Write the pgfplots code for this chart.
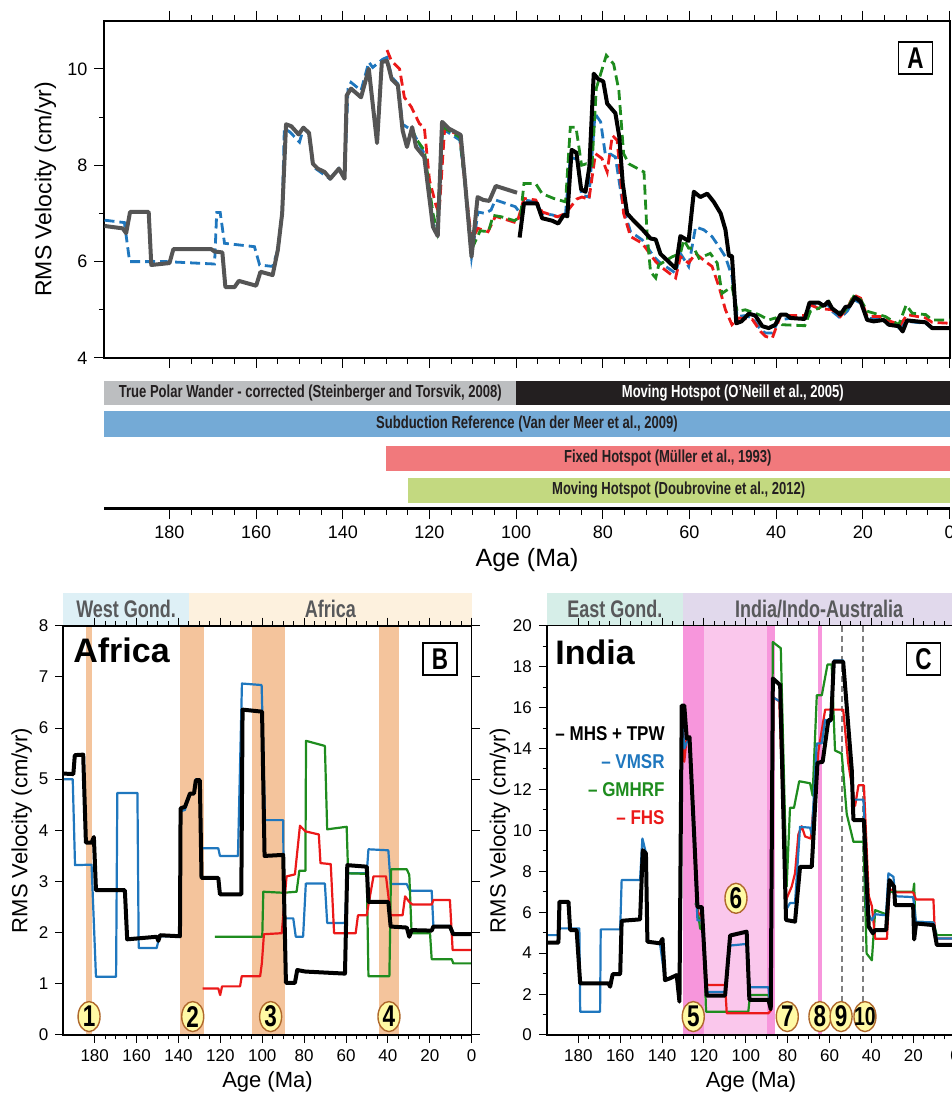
\documentclass[border=0pt]{standalone}
\usepackage{fontspec}
\setmainfont{Liberation Sans}
\newfontfamily\cond[FakeStretch=0.75]{Liberation Sans}
\newfontfamily\condleg[FakeStretch=0.85]{Liberation Sans}
\usepackage{pgfplots}
\pgfplotsset{compat=1.18}
\usetikzlibrary{shapes.geometric}
\definecolor{cblue}{RGB}{31,119,190}
\definecolor{cgreen}{RGB}{30,140,30}
\definecolor{cred}{RGB}{235,25,25}
\definecolor{cgrey}{RGB}{85,85,85}
\definecolor{barGrey}{RGB}{188,190,192}
\definecolor{barBlack}{RGB}{35,31,32}
\definecolor{barBlue}{RGB}{116,170,214}
\definecolor{barRed}{RGB}{241,121,124}
\definecolor{barGreen}{RGB}{195,217,128}
\definecolor{orangeBand}{RGB}{244,196,156}
\definecolor{pinkDark}{RGB}{247,150,220}
\definecolor{pinkLight}{RGB}{250,199,236}
\definecolor{hdrCyan}{RGB}{222,240,246}
\definecolor{hdrCream}{RGB}{253,241,222}
\definecolor{hdrTeal}{RGB}{214,238,232}
\definecolor{hdrLav}{RGB}{225,217,236}
\definecolor{badgeFill}{RGB}{255,250,165}
\definecolor{badgeEdge}{RGB}{175,105,45}
\definecolor{hdrText}{RGB}{88,89,91}
\tikzset{
 badge/.style={ellipse, draw=badgeEdge, fill=badgeFill, line width=0.7pt, inner sep=0pt, minimum width=11pt, minimum height=15pt, font=\cond\bfseries\fontsize{15}{15}\selectfont},
 lbox/.style={draw, line width=0.8pt, fill=white, minimum width=17pt, minimum height=16pt, inner sep=0pt, font=\cond\bfseries\fontsize{15}{15}\selectfont},
 bartxt/.style={font=\cond\bfseries\fontsize{8.7}{10}\selectfont},
 hdr/.style={font=\cond\bfseries\fontsize{12}{13}\selectfont, text=hdrText},
 leg/.style={anchor=east, inner sep=0pt, font=\condleg\bfseries\fontsize{10}{11}\selectfont}
}
\pgfplotsset{
 common/.style={
   scale only axis, x dir=reverse, xmin=0, xmax=195,
   tick align=outside, axis line style={line width=0.8pt},
   tick style={line width=0.5pt, black},
   /pgf/number format/assume math mode=true,
   tick label style={font=\fontsize{8.5}{10}\selectfont},
   label style={font=\fontsize{11}{13}\selectfont},
   xtick={0,20,...,180}, minor x tick num=3,
   major tick length=4pt, minor tick length=2.2pt,
 },
 dashA/.style={dash pattern=on 5pt off 2.5pt, line width=1.4pt},
 thinC/.style={line width=1.1pt, line join=round},
}
\begin{document}
\begin{tikzpicture}
\useasboundingbox (0,0) rectangle (475.5pt,547.5pt);
% ---------------- Panel A ----------------
\begin{axis}[common,
  at={(52.25pt,368.5pt)}, anchor=south west, width=422.5pt, height=168.65pt,
  ymin=4, ymax=11, xticklabels={},
  ytick={4,6,8,10}, minor y tick num=1, ytick pos=left,
  major tick length=5pt, minor tick length=2.8pt,
  axis line style={line width=1pt},
  tick label style={font=\fontsize{9}{10}\selectfont},
  ylabel={RMS Velocity (cm/yr)},
  ylabel style={at={(axis description cs:-0.0698,0.5)}, anchor=center, font=\fontsize{11.5}{13}\selectfont},
  clip=false]
\addplot[cblue, dashA] coordinates {(195,6.86)(190.4,6.81)(189.2,6.0)(180.8,6.0)(169.6,5.95)(169.1,7.02)(168.3,7.02)(167.3,6.38)(160.4,6.31)(159.2,5.93)(156.2,5.9)(155,6.24)(154,7.0)(153.5,8.76)(152.2,8.69)(150,8.48)(149.1,8.76)(147.8,8.66)(146.9,7.97)(143,7.72)(140.9,7.93)(139.6,7.76)(138.8,9.59)(138.1,9.72)(135.8,9.55)(134,10.14)(133.1,10.03)(130.8,10.2)(129.8,10.24)(128.7,9.83)(127.3,9.69)(126.2,8.85)(124,8.72)(121.2,8.24)(119.2,6.79)(118.1,6.6)(117,8.76)(113,8.52)(111.9,7.7)(110.3,6.1)(108.8,7.03)(107.2,7.0)(105.8,7.07)(104.8,7.28)(100.2,7.14)(99,7.0)(98.2,7.28)(95.5,7.24)(94,7.0)(91.7,6.97)(90.2,6.93)(88.6,7.0)(87.5,8.17)(85.9,8.12)(84.9,7.38)(83.2,7.34)(81.8,9.07)(80.5,8.9)(79.4,8.21)(78.2,8.23)(77.1,8.17)(75.2,7.07)(73.6,6.62)(70.9,6.45)(68.2,6.1)(67.1,6.0)(63.2,5.76)(62.1,6.17)(60.2,5.9)(58.6,6.72)(56.7,6.66)(54.8,6.52)(53.2,6.31)(51.7,6.1)(50.2,5.69)(49,4.86)(47.1,4.88)(45.5,4.83)(43.6,4.59)(42.5,4.52)(40.9,4.52)(39.4,4.79)(36.3,4.83)(33.4,4.83)(32.1,5.1)(30.2,5.07)(28,5.1)(27.1,4.97)(25.2,4.83)(23.6,4.97)(22.1,5.21)(20.5,5.14)(19,4.83)(15.5,4.79)(13.6,4.69)(11.7,4.62)(9.8,4.76)(5.5,4.72)(4,4.62)(0,4.62)};
\addplot[cred, dashA] coordinates {(129.8,10.39)(128.8,10.17)(126.9,10.0)(125.8,9.41)(124.2,9.21)(122.3,8.86)(121.2,8.79)(120,7.69)(118.5,7.17)(117.8,7.0)(116.5,8.76)(113,8.62)(111.9,7.7)(110.3,6.45)(108.8,6.69)(106.5,6.62)(104.8,6.94)(103.3,6.9)(99.8,6.8)(98.2,7.31)(95.5,7.28)(94,7.03)(90.5,6.93)(88.6,7.0)(86,7.3)(84.8,7.34)(83.2,7.29)(81.7,8.24)(80.2,8.14)(79,7.86)(77.8,8.62)(76.7,8.52)(75.2,7.0)(73.6,6.52)(70.9,6.38)(67.8,6.0)(66.7,5.9)(63.2,5.66)(62.1,6.1)(60.2,5.97)(58.6,6.17)(56.3,6.0)(54.8,5.9)(53.2,5.48)(51.7,5.0)(50.2,4.69)(48.6,4.83)(45.5,4.8)(43.6,4.55)(42.5,4.45)(40.9,4.41)(39,4.88)(33.4,4.88)(32.1,5.1)(30.2,5.03)(27.1,5.0)(25.2,4.86)(23.6,5.03)(22.1,5.31)(20.5,5.24)(19,4.86)(15.5,4.86)(13.6,4.76)(11.3,4.69)(9.8,4.9)(5.5,4.83)(4,4.74)(0,4.72)};
\addplot[cgreen, dashA] coordinates {(124.2,8.79)(123.1,8.55)(121.2,8.31)(119.2,7.0)(118.3,6.66)(117,8.8)(113,8.58)(111.9,7.7)(110.3,6.25)(108.3,6.64)(106.4,6.62)(105.3,6.96)(103.4,6.93)(100.4,6.85)(99,6.93)(98.2,7.62)(95.5,7.62)(94,7.41)(91.3,7.31)(88.6,7.24)(87.5,8.79)(86.2,8.79)(84.9,8.0)(83.8,8.03)(82.5,8.0)(81.5,9.6)(79.2,10.28)(77.5,10.1)(76.3,9.55)(75.2,8.24)(74,8.03)(70.5,7.86)(69.8,6.59)(69,5.79)(67.8,5.66)(67.1,5.93)(64,6.1)(62.1,6.17)(61.3,6.45)(60.2,6.28)(59,6.28)(57.8,6.07)(55.2,6.17)(53.6,5.97)(52.5,5.34)(50.2,5.48)(49,4.97)(47.1,5.0)(44,4.9)(41.7,4.79)(40.2,4.83)(38.6,4.69)(33.4,4.67)(32.1,4.97)(30.2,5.03)(27.8,5.17)(27.1,5.03)(24.8,4.93)(23.6,5.03)(22.1,5.28)(20.5,5.21)(19,4.97)(14.8,4.86)(11.7,4.69)(10,5.1)(8.6,4.93)(5.5,4.9)(4,4.79)(0,4.79)};
\addplot[cgrey, line width=2pt, line join=round] coordinates {(195,6.74)(190.8,6.69)(190,6.59)(189.1,7.03)(184.8,7.03)(184.2,5.93)(180,5.97)(179.1,6.26)(170.4,6.26)(169.6,6.21)(167.8,6.19)(167.1,5.47)(165,5.47)(164,5.6)(160,5.5)(159,5.79)(156.2,5.72)(155,6.24)(154,7.0)(153.1,8.85)(151.9,8.81)(150.2,8.64)(149.1,8.78)(147.8,8.67)(146.9,8.03)(145.8,7.93)(144.2,7.86)(142.9,7.72)(140.9,7.93)(139.6,7.72)(139.1,9.45)(138.1,9.59)(135.8,9.41)(134,10.0)(132.1,8.46)(131,10.14)(129.8,10.17)(128.7,9.78)(127.3,9.66)(126.2,8.72)(125.2,8.38)(124,8.79)(123.1,8.38)(121.2,8.17)(119.2,6.72)(118.1,6.53)(117.1,8.9)(115.5,8.76)(112.8,8.63)(111.9,7.76)(110.3,6.1)(108.9,7.34)(107.6,7.28)(106.2,7.26)(104.7,7.57)(99.8,7.43)};
\addplot[black, line width=2pt, line join=round] coordinates {(99.2,6.5)(98.2,7.21)(95.2,7.21)(94,6.9)(91.7,6.85)(90.3,6.79)(89,6.97)(88.2,6.94)(87.2,8.32)(86.1,8.26)(85,7.5)(84,7.45)(83.1,7.97)(82.1,9.9)(81.1,9.79)(79.9,9.74)(79,9.28)(77.1,9.08)(76.2,8.59)(75.4,7.62)(74.4,7.0)(73.2,6.88)(70.9,6.67)(69,6.48)(67.8,6.46)(66.7,6.16)(63.2,5.86)(62.1,6.53)(60.2,6.43)(59,7.45)(57.5,7.34)(55.9,7.41)(54.4,7.24)(52.8,7.0)(51.7,6.66)(50.9,6.12)(50.2,6.12)(49.2,4.72)(48,4.76)(46.3,4.92)(44.8,4.88)(43.2,4.66)(41.7,4.62)(40.2,4.69)(39,4.9)(37.7,4.9)(36.7,4.83)(33.4,4.81)(32.3,5.15)(30.2,5.15)(29,5.08)(28,5.17)(27.1,5.03)(25.2,4.9)(24,5.06)(23.1,5.07)(21.8,5.26)(20.5,5.17)(19,4.79)(17.5,4.76)(15.2,4.79)(14,4.69)(11.7,4.66)(10.8,4.55)(9.8,4.78)(5.5,4.74)(4,4.62)(0,4.62)};
\node[lbox] at (axis cs:7.85,10.23) {A};
\end{axis}
% ---------------- Reference frame bars ----------------
\begin{axis}[common,
  at={(52.25pt,293pt)}, anchor=south west, width=422.5pt, height=66.5pt,
  ymin=0, ymax=133, axis x line*=bottom, axis y line=none,
  x axis line style={-, line width=1.5pt},
  major tick length=5pt, minor tick length=2.8pt,
  tick align=outside,
  tick label style={font=\fontsize{9}{10}\selectfont},
  xlabel={Age (Ma)},
  xlabel style={at={(axis description cs:0.5,-0.383)}, anchor=center, font=\fontsize{12.5}{14}\selectfont},
  clip=false]
\fill[barGrey] (axis cs:195,104) rectangle (axis cs:100,128);
\fill[barBlack] (axis cs:100,104) rectangle (axis cs:0,128);
\fill[barBlue] (axis cs:195,72) rectangle (axis cs:0,98);
\fill[barRed] (axis cs:130,38) rectangle (axis cs:0,63);
\fill[barGreen] (axis cs:125,6) rectangle (axis cs:0,31);
\node[bartxt, text=barBlack] at (axis cs:147.5,116) {True Polar Wander - corrected (Steinberger and Torsvik, 2008)};
\node[bartxt, text=white] at (axis cs:50,116) {Moving Hotspot (O’Neill et al., 2005)};
\node[bartxt, text=barBlack] at (axis cs:97.5,85) {Subduction Reference (Van der Meer et al., 2009)};
\node[bartxt, text=barBlack] at (axis cs:65,50.5) {Fixed Hotspot (Müller et al., 1993)};
\node[bartxt, text=barBlack] at (axis cs:62.5,18.5) {Moving Hotspot (Doubrovine et al., 2012)};
\end{axis}
% ---------------- Panel B ----------------
\begin{axis}[common,
  at={(31.65pt,30pt)}, anchor=south west, width=204.2pt, height=204.65pt,
  ymin=0, ymax=8, ytick={0,...,8},
  xlabel={Age (Ma)}, ylabel={RMS Velocity (cm/yr)},
  xlabel style={at={(axis description cs:0.5,-0.114)}, anchor=center},
  ylabel style={at={(axis description cs:-0.102,0.5)}, anchor=center},
  clip=false, axis on top]
\fill[hdrCyan] (axis cs:195,8) rectangle (axis cs:135,8.64);
\fill[hdrCream] (axis cs:135,8) rectangle (axis cs:0,8.64);
\node[hdr] at (axis cs:165,8.33) {West Gond.};
\node[hdr] at (axis cs:67.5,8.33) {Africa};
\fill[orangeBand] (axis cs:184.2,0) rectangle (axis cs:181.5,8);
\fill[orangeBand] (axis cs:139.3,0) rectangle (axis cs:127.9,8);
\fill[orangeBand] (axis cs:105.1,0) rectangle (axis cs:89.2,8);
\fill[orangeBand] (axis cs:44.3,0) rectangle (axis cs:34.7,8);
\addplot[cblue, thinC] coordinates {(195,5.0)(190.5,5.0)(189.4,3.32)(181.5,3.33)(179.4,1.14)(169.8,1.14)(169.2,4.73)(159.6,4.73)(159,1.7)(150.4,1.7)(149.1,1.93)(139.3,1.93)(139,4.37)(136.9,4.4)(134.5,4.72)(132.6,4.72)(131.7,5.0)(129.8,5.0)(129,3.65)(121,3.65)(120.2,3.5)(111.6,3.5)(109.7,6.87)(100.3,6.84)(98.7,4.2)(90,4.2)(89.7,2.28)(85.2,2.28)(84,1.92)(80.5,1.92)(79.2,2.96)(70.1,2.96)(69,2.19)(60.5,2.19)(59.4,3.16)(50.1,3.16)(49.3,3.63)(39.8,3.61)(38.7,2.95)(31,2.95)(29.8,2.84)(28.7,2.82)(19.1,2.82)(18.3,2.13)(10.4,2.13)(8.8,1.97)(0,1.97)};
\addplot[cgreen, thinC] coordinates {(122.6,1.92)(100,1.92)(99.5,2.8)(90,2.78)(83.6,2.8)(82.3,3.21)(79.4,3.21)(79.1,5.75)(70.1,5.65)(69,4.02)(59.7,4.07)(59,3.16)(50.1,3.15)(49.3,1.15)(39.3,1.15)(38.5,3.24)(31,3.24)(29.8,3.13)(28.7,1.99)(19.9,1.99)(19.1,1.48)(9.5,1.48)(8.8,1.4)(0,1.4)};
\addplot[cred, thinC] coordinates {(128.5,0.91)(121,0.91)(120.1,0.78)(119.2,0.95)(110.6,0.95)(109.8,1.15)(101,1.15)(100.2,1.4)(99.2,1.97)(90.7,1.99)(88.4,3.1)(84.4,3.14)(82,4.09)(79.4,3.98)(73,3.92)(72.2,3.36)(67.3,3.34)(65.7,1.99)(55.4,1.99)(54.3,2.34)(50.1,2.34)(49.5,2.5)(46.9,3.1)(40.9,3.1)(38.7,2.34)(33,2.34)(31.8,2.71)(29.8,2.6)(28.3,2.55)(19.1,2.55)(18.3,2.64)(10.4,2.64)(9.1,1.66)(0,1.66)};
\addplot[black, line width=2pt, line join=round] coordinates {(195,5.11)(190.2,5.1)(189.5,5.47)(185.5,5.48)(184.2,3.76)(181.5,3.76)(180.4,3.87)(179.4,2.83)(165.6,2.83)(164.5,1.87)(150.4,1.92)(149.6,1.84)(148.8,1.95)(139.3,1.93)(139,4.43)(136.9,4.46)(134.5,4.72)(132.6,4.72)(131.7,4.98)(129.8,4.98)(129,3.07)(121,3.07)(120.2,2.75)(110,2.75)(109.4,6.36)(100.1,6.32)(98.9,3.5)(90,3.52)(88.7,1.02)(84.4,1.02)(83.3,1.27)(79.4,1.24)(60.5,1.2)(59.4,3.32)(50.1,3.29)(49.3,2.6)(39.8,2.6)(38.7,2.12)(31,2.1)(29.8,1.92)(28.7,2.05)(19.1,2.04)(18.3,2.12)(10.4,2.12)(8.8,1.97)(0,1.97)};
\node[anchor=base west, inner sep=0pt, font=\bfseries\fontsize{17}{18}\selectfont] at (axis cs:190.4,7.29) {Africa};
\node[lbox] at (axis cs:15.1,7.35) {B};
\node[badge] at (axis cs:182.7,0.36) {1};
\node[badge] at (axis cs:133.2,0.36) {2};
\node[badge] at (axis cs:96,0.36) {3};
\node[badge] at (axis cs:39.5,0.36) {4};
\end{axis}
% ---------------- Panel C ----------------
\begin{axis}[common,
  at={(273.45pt,30pt)}, anchor=south west, width=204.15pt, height=204.65pt,
  ymin=0, ymax=20, ytick={0,2,...,20}, minor y tick num=1,
  xlabel={Age (Ma)}, ylabel={RMS Velocity (cm/yr)},
  xlabel style={at={(axis description cs:0.5,-0.114)}, anchor=center},
  ylabel style={at={(axis description cs:-0.115,0.5)}, anchor=center},
  clip=false, axis on top]
\fill[hdrTeal] (axis cs:195,20) rectangle (axis cs:130,21.6);
\fill[hdrLav] (axis cs:130,20) rectangle (axis cs:0,21.6);
\node[hdr] at (axis cs:162.5,20.82) {East Gond.};
\node[hdr] at (axis cs:65,20.82) {India/Indo-Australia};
\fill[pinkDark] (axis cs:130,0) rectangle (axis cs:120,20);
\fill[pinkLight] (axis cs:120,0) rectangle (axis cs:89.7,20);
\fill[pinkDark] (axis cs:89.7,0) rectangle (axis cs:86.1,20);
\fill[pinkDark] (axis cs:65.4,0) rectangle (axis cs:63.8,20);
\draw[gray, dash pattern=on 3pt off 2pt, line width=1.2pt] (axis cs:54.2,20) -- (axis cs:54.2,1.6);
\draw[gray, dash pattern=on 3pt off 2pt, line width=1.2pt] (axis cs:43.9,20) -- (axis cs:43.9,1.6);
\addplot[cgreen, thinC] coordinates {(124.5,6.4)(123.4,6.4)(121.8,5.2)(120.2,5.1)(119,1.14)(98.8,1.14)(98,1.95)(89.2,1.95)(88.1,1.3)(87.1,19.2)(83.3,18.9)(80.5,7.25)(78.9,11.1)(77,11.1)(74.5,12.4)(69.3,12.3)(68.1,11.7)(66.1,16.6)(63.7,16.6)(61,18.1)(59,18.1)(57.4,13.9)(54.2,13.75)(51.8,10.8)(48.6,9.44)(43.8,9.44)(42.3,3.98)(39.8,3.65)(38.2,6.1)(33,5.9)(31.9,7.0)(20.1,7.0)(19.6,7.4)(19.1,5.53)(10.4,5.5)(8.8,4.88)(0,4.88)};
\addplot[cred, thinC] coordinates {(130.6,15.5)(129.4,13.35)(128.2,14.56)(126.9,14.4)(124.7,9.8)(123.1,6.0)(121,5.8)(118.7,2.44)(109.9,2.44)(109.1,1.06)(89.2,1.06)(88.1,1.2)(86.8,16.5)(84,16.3)(80.8,6.6)(78.1,7.25)(76.5,7.9)(74.9,9.8)(73.3,10.2)(71.7,9.7)(69,9.6)(65.3,13.9)(62.1,15.9)(53.5,15.9)(51.1,13.3)(47.8,11.2)(46.2,12.2)(43.6,12.2)(41.3,6.8)(39.8,6.3)(38.2,4.7)(32.6,4.7)(31.4,7.1)(29.5,7.1)(28.7,6.97)(20.1,6.97)(18.7,6.62)(10.4,6.62)(9.6,4.72)(0,4.72)};
\addplot[cblue, thinC] coordinates {(194.8,4.88)(189.5,4.88)(189,5.21)(179.5,5.21)(179.1,1.14)(169.6,1.14)(169.3,5.16)(160,5.16)(159.3,7.57)(150.5,7.57)(149.4,9.6)(147.7,8.9)(147,4.56)(141,4.48)(138.6,2.68)(133,2.93)(131.7,1.63)(130.6,16.0)(129.4,14.0)(128.2,14.3)(126.9,14.4)(124.7,9.6)(123.1,5.6)(121,5.6)(118.7,2.1)(109.9,2.1)(107.5,4.37)(99.6,4.45)(98.3,2.33)(89.2,2.33)(88.1,1.3)(87.1,16.5)(83.6,16.3)(80.8,6.1)(78.9,6.45)(76.5,6.45)(74.1,10.17)(69.3,10.13)(68.5,9.8)(66.1,14.25)(63.7,14.25)(62.1,15.4)(59.7,15.3)(58,18.3)(53.5,18.3)(50.2,13.8)(48.6,11.5)(43.8,11.5)(42.3,6.1)(39.8,5.6)(38.2,5.9)(33,5.85)(31.9,7.9)(29.5,7.73)(28.7,6.78)(20.1,6.74)(18.7,5.53)(10.4,5.5)(8.8,4.72)(0,4.72)};
\addplot[black, line width=2pt, line join=round] coordinates {(194.8,4.51)(189.5,4.51)(189,6.51)(184.7,6.51)(183.9,5.13)(180.8,5.13)(179.1,2.52)(165.6,2.52)(164.8,2.36)(163.6,2.97)(160,2.97)(159.3,5.58)(150.5,5.65)(149.2,9.03)(147.7,8.87)(147,4.56)(141,4.48)(139.8,4.7)(138.6,2.68)(136.2,2.77)(133,2.93)(131.7,1.63)(130.6,16.1)(129.4,16.1)(128.2,14.48)(126.9,14.56)(124.7,9.83)(123.1,6.25)(121,6.25)(118.7,1.93)(109.9,1.93)(107.5,4.86)(99.6,5.05)(98.3,1.72)(89.2,1.72)(88.1,1.26)(87.1,17.42)(83.6,17.1)(80.8,5.62)(76.5,5.54)(74.1,8.22)(68.5,8.22)(65.8,13.3)(63.3,13.35)(60.6,15.38)(59.2,15.4)(58,18.24)(53.5,18.24)(49.4,12.95)(48.6,10.5)(43.6,10.5)(41.3,5.29)(39.3,4.97)(38.2,5.13)(33,5.13)(31.4,7.57)(29.2,7.25)(28.7,6.35)(20.1,6.35)(19.6,4.67)(18.7,5.45)(10.4,5.37)(8.8,4.4)(0,4.4)};
\node[anchor=base west, inner sep=0pt, font=\bfseries\fontsize{17}{18}\selectfont] at (axis cs:191.1,18.08) {India};
\node[lbox] at (axis cs:15.1,18.37) {C};
\node[leg, text=black] at (axis cs:138.6,14.74) {– MHS + TPW};
\node[leg, text=cblue] at (axis cs:138.6,13.35) {– VMSR};
\node[leg, text=cgreen] at (axis cs:138.6,12.0) {– GMHRF};
\node[leg, text=cred] at (axis cs:138.6,10.63) {– FHS};
\node[badge] at (axis cs:125.1,0.9) {5};
\node[badge] at (axis cs:104.7,6.68) {6};
\node[badge] at (axis cs:80.2,0.9) {7};
\node[badge] at (axis cs:64.6,0.9) {8};
\node[badge] at (axis cs:54.5,0.9) {9};
\node[badge, inner xsep=-2.5pt, font=\cond\bfseries\fontsize{13}{13}\selectfont] at (axis cs:43.1,0.9) {10};
\end{axis}
\end{tikzpicture}
\end{document}
